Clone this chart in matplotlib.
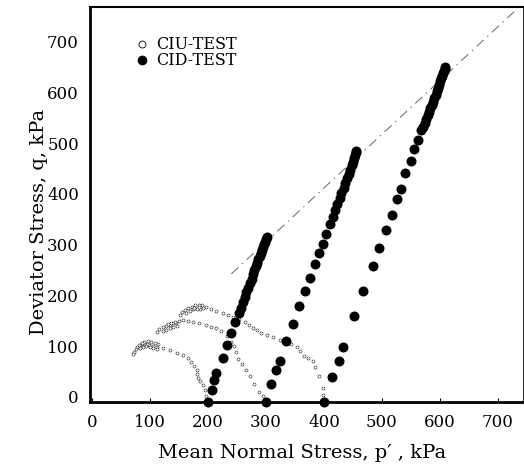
import matplotlib
matplotlib.use("Agg")
import matplotlib.pyplot as plt
import matplotlib.transforms as mtransforms
from matplotlib.lines import Line2D

# ---------------- data ----------------
# CID tests (drained), p' and q in kPa
cid200_p = [200, 206, 210, 214, 225, 233, 240, 247, 253, 257, 260, 263, 266, 269,
            272, 275, 278, 280, 283, 285, 287, 289, 291, 293, 295, 297, 298, 300, 301]
cid200_q = [0, 24, 43, 56, 87, 112, 135, 157, 174, 185, 196, 206, 216, 225,
            234, 243, 251, 259, 267, 274, 281, 288, 294, 300, 306, 311, 316, 320, 324]

cid300_p = [300, 308, 317, 324, 335, 347, 357, 367, 376, 384, 392, 399, 403, 410,
            415, 419, 423, 427, 430, 434, 437, 440, 443, 445, 448, 450, 452, 454, 455, 456]
cid300_q = [0, 34, 63, 80, 120, 153, 188, 218, 245, 271, 293, 311, 331, 351,
            365, 378, 390, 401, 412, 422, 432, 441, 450, 458, 466, 473, 480, 487, 492, 495]

cid400_p = [400, 414, 426, 433, 452, 468, 484, 495, 508, 517, 526, 534, 541, 550,
            556, 563, 568, 571, 574, 577, 580, 582, 584, 586, 588, 591, 593, 595,
            597, 599, 601, 603, 604, 606, 607, 609, 610]
cid400_q = [0, 49, 80, 107, 169, 218, 268, 303, 339, 368, 399, 420, 451, 474,
            498, 516, 536, 542, 549, 558, 566, 572, 579, 586, 592, 599, 605, 612,
            618, 625, 632, 638, 643, 648, 653, 657, 661]

# CIU tests (undrained effective stress paths)
ciu200_p = [200, 197, 194, 191, 186, 183, 181, 180, 176, 171, 165, 157, 146, 134,
            122, 111, 104, 98, 94, 90, 86, 82, 78, 75, 72, 70,
            114, 108, 102, 96, 90, 85, 80, 112, 105, 99, 93, 88, 83]
ciu200_q = [0, 12, 24, 33, 40, 46, 55, 62, 70, 79, 86, 92, 97, 102,
            105, 108, 110, 112, 114, 114, 113, 111, 107, 103, 99, 95,
            113, 116, 118, 119, 118, 116, 112, 104, 106, 108, 109, 108, 105]

ciu300_p = [300, 294, 288, 280, 272, 266, 258, 252, 249, 245, 240, 232, 222, 214,
            205, 197, 185, 174, 165, 157, 150, 145, 140, 135, 128, 122, 116, 111,
            146, 140, 134, 128, 122, 142, 136, 130]
ciu300_q = [0, 12, 20, 35, 50, 62, 75, 85, 98, 110, 118, 130, 140, 145,
            148, 151, 155, 158, 160, 161, 159, 156, 155, 152, 150, 147, 143, 138,
            150, 148, 145, 142, 140, 158, 156, 153]

ciu400_p = [400, 399, 398, 392, 385, 381, 372, 365, 358, 353, 344, 335, 324, 312,
            302, 292, 285, 278, 271, 264, 254, 243, 234, 226, 214, 205, 197, 190,
            185, 178, 172, 166, 160, 155, 151, 186, 180, 174, 168, 162, 192, 184, 176]
ciu400_q = [0, 14, 27, 50, 68, 80, 86, 90, 100, 108, 113, 116, 122, 127,
            131, 136, 141, 146, 152, 158, 163, 168, 172, 175, 178, 183, 187, 190,
            191, 190, 187, 184, 180, 176, 172, 182, 183, 182, 179, 175, 184, 186, 185]

# critical state line (dash-dot)
csl_p = [240, 735]
csl_q = [252, 776]

x_ticks = [0, 100, 200, 300, 400, 500, 600, 700]
y_ticks = [0, 100, 200, 300, 400, 500, 600, 700]

# ---------------- figure ----------------
plt.rcParams['font.family'] = ['DejaVu Serif']
fig = plt.figure(figsize=(5.24, 4.70), dpi=100)
ax = fig.add_axes([0.1718, 0.1453, 0.8263, 0.8392])

ax.plot(csl_p, csl_q, color='#666666', lw=0.7, ls=(0, (10, 5, 1.5, 5)), zorder=1)

for p, q in [(ciu200_p, ciu200_q), (ciu300_p, ciu300_q), (ciu400_p, ciu400_q)]:
    ax.plot(p, q, ls='none', marker='o', ms=2.2, mfc='white', mec='#333333',
            mew=0.45, zorder=2)

for p, q in [(cid200_p, cid200_q), (cid300_p, cid300_q), (cid400_p, cid400_q)]:
    ax.plot(p, q, ls='none', marker='o', ms=7.2, mfc='black', mec='black',
            mew=0, zorder=3, clip_on=False)

ax.set_xlim(-4, 744)
ax.set_ylim(0, 778)
ax.set_xticks(x_ticks)
ax.set_yticks(y_ticks)
ax.set_xticklabels([str(v) for v in x_ticks])
ax.set_yticklabels([str(v) for v in y_ticks])
ax.tick_params(axis='x', direction='in', length=3, width=0.8, labelsize=12, pad=9)
ax.tick_params(axis='y', length=0, labelsize=12, pad=8)

off = mtransforms.ScaledTranslation(0, 5 / 100, fig.dpi_scale_trans)
for lab in ax.get_yticklabels():
    lab.set_transform(lab.get_transform() + off)

for side in ['left', 'bottom']:
    ax.spines[side].set_linewidth(2.0)
ax.spines['top'].set_linewidth(1.5)
ax.spines['right'].set_linewidth(0.6)

ax.set_xlabel("Mean Normal Stress, p\u2032 , kPa", fontsize=14)
ax.set_ylabel("Deviator Stress, q, kPa", fontsize=14)
ax.xaxis.set_label_coords(0.49, -0.108)
ax.yaxis.set_label_coords(-0.097, 0.455)

handles = [
    Line2D([], [], ls='none', marker='o', ms=5, mfc='white', mec='black', mew=0.6),
    Line2D([], [], ls='none', marker='o', ms=7, mfc='black', mec='black', mew=0),
]
ax.legend(handles, ["CIU-TEST", "CID-TEST"], loc='upper left',
          bbox_to_anchor=(0.08, 0.955), frameon=False, fontsize=11.5,
          handlelength=0.8, handletextpad=0.45, labelspacing=-0.05,
          borderpad=0.2)

fig.savefig("out.png", dpi=100)
